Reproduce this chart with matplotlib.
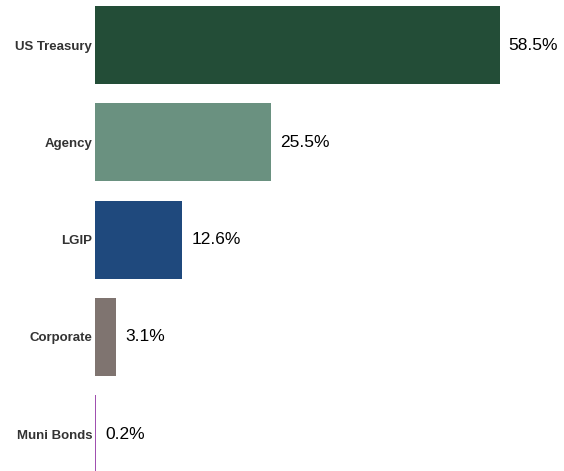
import matplotlib.pyplot as plt

categories = ["US Treasury", "Agency", "LGIP", "Corporate", "Muni Bonds"]
values = [58.5, 25.5, 12.6, 3.1, 0.2]
colors = ["#234D37", "#6A9180", "#1F497D", "#7F7470", "#A050B0"]

plt.rcParams['font.family'] = ['Liberation Sans', 'DejaVu Sans']

fig = plt.figure(figsize=(5.64, 4.71), dpi=100)
ax = fig.add_axes([95 / 564, 0, 1 - 95 / 564, 1])

y = list(range(len(categories)))
ax.barh(y, values, height=0.8, color=colors, linewidth=0)
for yi, v in zip(y, values):
    ax.text(v + 1.3, yi, f"{v}%", va="center", ha="left", fontsize=12.5, color="black")

ax.set_xlim(0, 67.8)
ax.set_ylim(4.377, -0.463)
ax.set_yticks(y)
ax.set_yticklabels(categories, fontsize=9.5, fontweight="bold", color="#333333")
ax.tick_params(axis="y", length=0, pad=2)
ax.set_xticks([])
for s in ax.spines.values():
    s.set_visible(False)

fig.savefig("out.png", dpi=100)
